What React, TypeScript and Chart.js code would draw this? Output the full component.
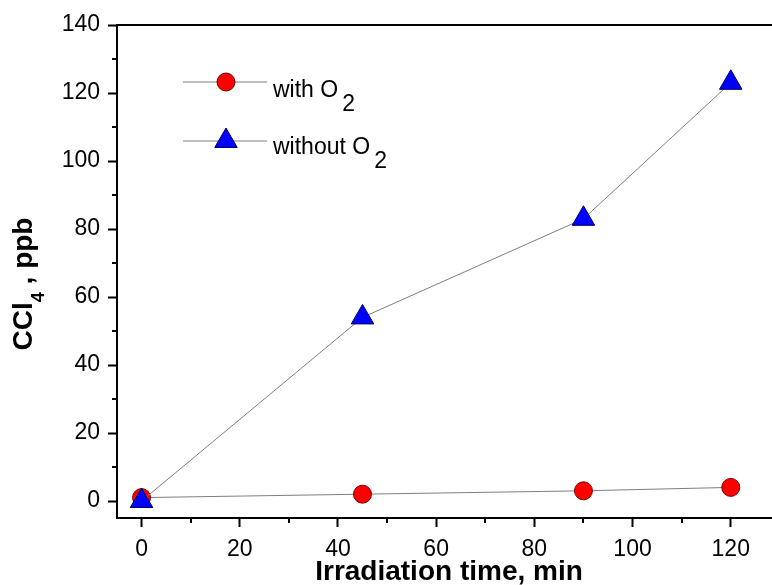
import React, { useEffect, useRef } from "react";
import { Chart, registerables } from "chart.js";

Chart.register(...registerables);

const timeMin = [0, 45, 90, 120];
const withO2 = [1, 2, 3, 4];
const withoutO2 = [0, 54, 83, 123];
const xTicks = [0, 20, 40, 60, 80, 100, 120];
const yTicks = [0, 20, 40, 60, 80, 100, 120, 140];
const xMinor = [10, 30, 50, 70, 90, 110];
const yMinor = [10, 30, 50, 70, 90, 110, 130];
const legendLabels = ["with O", "without O"];
const xTitle = "Irradiation time, min";

const FONT = "'Liberation Sans', Arial, sans-serif";

const decorPlugin = {
  id: "decor",
  beforeDatasetsDraw(chart: any) {
    const ctx = chart.ctx;
    const area = chart.chartArea;
    const xs = chart.scales.x;
    const ys = chart.scales.y;
    ctx.save();
    ctx.strokeStyle = "#000";
    ctx.lineWidth = 2;
    ctx.beginPath();
    ctx.moveTo(area.left, area.top);
    ctx.lineTo(area.right, area.top);
    ctx.stroke();
    for (const v of xMinor) {
      const px = Math.round(xs.getPixelForValue(v));
      ctx.beginPath();
      ctx.moveTo(px, area.bottom);
      ctx.lineTo(px, area.bottom + 5);
      ctx.stroke();
    }
    for (const v of yMinor) {
      const py = Math.round(ys.getPixelForValue(v));
      ctx.beginPath();
      ctx.moveTo(area.left, py);
      ctx.lineTo(area.left - 5, py);
      ctx.stroke();
    }
    ctx.restore();
  },
  afterDraw(chart: any) {
    const ctx = chart.ctx;
    ctx.save();
    ctx.fillStyle = "#000";
    ctx.textBaseline = "alphabetic";
    ctx.font = `bold 28px ${FONT}`;
    ctx.textAlign = "center";
    ctx.fillText(xTitle, 449, 580);

    ctx.save();
    ctx.translate(32, 284);
    ctx.rotate(-Math.PI / 2);
    const parts = [
      { t: "CCl", f: `bold 28px ${FONT}`, dy: 0 },
      { t: "4", f: `bold 18px ${FONT}`, dy: 12 },
      { t: " , ppb", f: `bold 28px ${FONT}`, dy: 0 },
    ];
    let total = 0;
    for (const p of parts) {
      ctx.font = p.f;
      total += ctx.measureText(p.t).width;
    }
    let cx = -total / 2;
    ctx.textAlign = "left";
    for (const p of parts) {
      ctx.font = p.f;
      ctx.fillText(p.t, cx, p.dy);
      cx += ctx.measureText(p.t).width;
    }
    ctx.restore();

    const rows = [
      { y: 82, base: 97, label: legendLabels[0], marker: "circle" },
      { y: 141, base: 154, label: legendLabels[1], marker: "triangle" },
    ];
    for (const r of rows) {
      ctx.strokeStyle = "#7f7f7f";
      ctx.lineWidth = 1;
      ctx.beginPath();
      ctx.moveTo(183, r.y);
      ctx.lineTo(267, r.y);
      ctx.stroke();
      if (r.marker === "circle") {
        ctx.beginPath();
        ctx.arc(226, r.y, 9, 0, Math.PI * 2);
        ctx.fillStyle = "#ff0000";
        ctx.fill();
        ctx.strokeStyle = "#7a0000";
        ctx.stroke();
      } else {
        const rad = 13;
        ctx.beginPath();
        ctx.moveTo(226, r.y - rad);
        ctx.lineTo(226 + rad * Math.sin((2 * Math.PI) / 3), r.y - rad * Math.cos((2 * Math.PI) / 3));
        ctx.lineTo(226 + rad * Math.sin((4 * Math.PI) / 3), r.y - rad * Math.cos((4 * Math.PI) / 3));
        ctx.closePath();
        ctx.fillStyle = "#0000ff";
        ctx.fill();
        ctx.strokeStyle = "#000060";
        ctx.stroke();
      }
      ctx.fillStyle = "#000";
      ctx.font = `23px ${FONT}`;
      ctx.textAlign = "left";
      ctx.fillText(r.label, 273, r.base);
      const w = ctx.measureText(r.label).width;
      ctx.fillText("2", 273 + w + 4, r.base + 14);
    }
    ctx.restore();
  },
};

export default function App() {
  const ref = useRef<HTMLCanvasElement | null>(null);
  useEffect(() => {
    if (!ref.current) return;
    const chart = new Chart(ref.current, {
      type: "line",
      data: {
        datasets: [
          {
            label: "without O2",
            data: timeMin.map((t, i) => ({ x: t, y: withoutO2[i] })),
            borderColor: "#7f7f7f",
            borderWidth: 1,
            pointStyle: "triangle",
            pointRadius: 13,
            pointBackgroundColor: "#0000ff",
            pointBorderColor: "#000060",
            pointBorderWidth: 1,
            tension: 0,
            clip: false as any,
          },
          {
            label: "with O2",
            data: timeMin.map((t, i) => ({ x: t, y: withO2[i] })),
            borderColor: "#7f7f7f",
            borderWidth: 1,
            pointStyle: "circle",
            pointRadius: 9,
            pointBackgroundColor: "#ff0000",
            pointBorderColor: "#7a0000",
            pointBorderWidth: 1,
            tension: 0,
            clip: false as any,
          },
        ],
      },
      options: {
        animation: false,
        responsive: false,
        events: [],
        layout: { autoPadding: false, padding: { left: 0, top: 25, right: 0, bottom: 0 } },
        plugins: { legend: { display: false }, tooltip: { enabled: false } },
        scales: {
          x: {
            type: "linear",
            min: -5,
            max: 128.4,
            afterBuildTicks: (s: any) => {
              s.ticks = xTicks.map((v) => ({ value: v }));
            },
            afterFit: (s: any) => {
              s.height = 67;
              s.paddingLeft = 0;
              s.paddingRight = 0;
              s.paddingTop = 0;
              s.paddingBottom = 0;
            },
            border: { display: true, color: "#000", width: 2 },
            grid: {
              display: true,
              drawOnChartArea: false,
              drawTicks: true,
              tickLength: 9,
              tickColor: "#000",
              tickWidth: 2,
            },
            ticks: {
              color: "#000",
              font: { family: FONT, size: 23 },
              padding: 9,
              maxRotation: 0,
            },
          },
          y: {
            type: "linear",
            min: -5,
            max: 140,
            afterBuildTicks: (s: any) => {
              s.ticks = yTicks.map((v) => ({ value: v }));
            },
            afterFit: (s: any) => {
              s.width = 117;
              s.paddingTop = 0;
              s.paddingBottom = 0;
              s.paddingLeft = 0;
              s.paddingRight = 0;
            },
            border: { display: true, color: "#000", width: 2 },
            grid: {
              display: true,
              drawOnChartArea: false,
              drawTicks: true,
              tickLength: 9,
              tickColor: "#000",
              tickWidth: 2,
            },
            ticks: {
              color: "#000",
              font: { family: FONT, size: 23 },
              padding: 8,
            },
          },
        },
      },
      plugins: [decorPlugin],
    });
    return () => chart.destroy();
  }, []);
  return (
    <canvas
      ref={ref}
      width={772}
      height={585}
      style={{ position: "absolute", left: 0, top: 0, display: "block", background: "#fff" }}
    />
  );
}
